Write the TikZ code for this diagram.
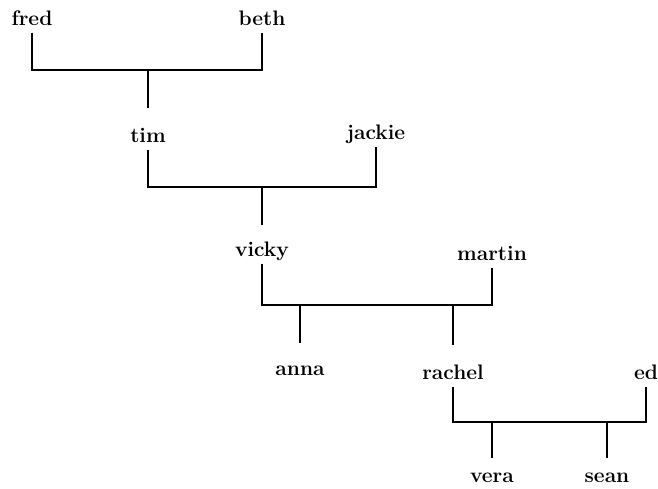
\documentclass[tikz,border=0pt]{standalone}
\begin{document}
\begin{tikzpicture}[x=1pt,y=-1pt,
  person/.style={anchor=base,font=\fontsize{21}{24}\selectfont\bfseries,
    text height=15pt,text depth=5pt,inner sep=0pt,outer ysep=2.5pt},
  link/.style={line width=1.5pt}]
\useasboundingbox (0,0) rectangle (658,488);
% people
\node[person] (fred)   at (32,25)   {fred};
\node[person] (beth)   at (262,25)  {beth};
\node[person] (tim)    at (148,142) {tim};
\node[person] (jackie) at (376,139) {jackie};
\node[person] (vicky)  at (262,256) {vicky};
\node[person] (martin) at (492,260) {martin};
\node[person] (anna)   at (300,375) {anna};
\node[person] (rachel) at (453,379) {rachel};
\node[person] (ed)     at (646,379) {ed};
\node[person] (vera)   at (492,482) {vera};
\node[person] (sean)   at (607,482) {sean};
% junction points
\coordinate (m1)  at (148,70);
\coordinate (m2)  at (262,187);
\coordinate (m3a) at (300,305);
\coordinate (m3b) at (453,305);
\coordinate (m4a) at (492,422);
\coordinate (m4b) at (607,422);
% marriages and children
\draw[link] (fred.south) |- (m1) -| (beth.south);
\draw[link] (m1) -- ([yshift=16.5pt]tim.north);
\draw[link] (tim.south) |- (m2) -| (jackie.south);
\draw[link] (m2) -- ([yshift=13.5pt]vicky.north);
\draw[link] (vicky.south) |- (m3a) -- (m3b) -| (martin.south);
\draw[link] (m3a) -- ([yshift=14.5pt]anna.north);
\draw[link] (m3b) -- ([yshift=16.5pt]rachel.north);
\draw[link] (rachel.south) |- (m4a) -- (m4b) -| (ed.south);
\draw[link] (m4a) -- ([yshift=6.5pt]vera.north);
\draw[link] (m4b) -- ([yshift=6.5pt]sean.north);
\end{tikzpicture}
\end{document}
